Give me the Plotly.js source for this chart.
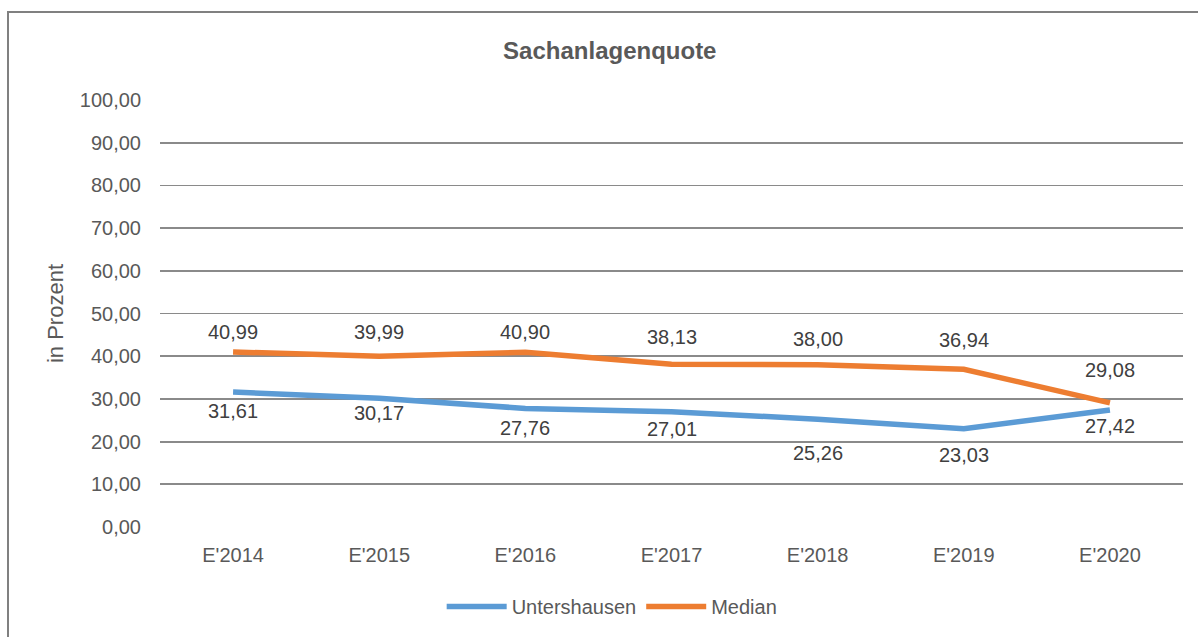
<!DOCTYPE html>
<html>
<head>
<meta charset="utf-8">
<script src="https://cdn.plot.ly/plotly-3.0.1.min.js"></script>
<style>html,body{margin:0;padding:0;background:#fff;}#chart{width:1198px;height:637px;}</style>
</head>
<body>
<div id="chart"></div>
<script>
const categories = ["E'2014", "E'2015", "E'2016", "E'2017", "E'2018", "E'2019", "E'2020"];
const untershausen = [31.61, 30.17, 27.76, 27.01, 25.26, 23.03, 27.42];
const median = [40.99, 39.99, 40.90, 38.13, 38.00, 36.94, 29.08];
const seriesNames = ["Untershausen", "Median"];
const yTicks = [0, 10, 20, 30, 40, 50, 60, 70, 80, 90, 100];

// label offsets (layout only, px)
const untersLabelShift = [-19, -15, -20, -17, -34, -26, -16];
const medianLabelShift = [20, 24, 20, 27, 26, 29, 33];

const FONT = "'Liberation Sans', Arial, sans-serif";
const fmt = v => v.toFixed(2).replace('.', ',');

const traces = [
  {x: categories, y: untershausen, name: seriesNames[0], type: 'scatter', mode: 'lines',
   line: {color: '#5B9BD5', width: 5.5}},
  {x: categories, y: median, name: seriesNames[1], type: 'scatter', mode: 'lines',
   line: {color: '#ED7D31', width: 5.5}}
];

const annotations = [];
categories.forEach((c, i) => {
  annotations.push({x: c, y: untershausen[i], xref: 'x', yref: 'y', text: fmt(untershausen[i]),
    showarrow: false, yshift: untersLabelShift[i], font: {family: FONT, size: 20, color: '#404040'}});
  annotations.push({x: c, y: median[i], xref: 'x', yref: 'y', text: fmt(median[i]),
    showarrow: false, yshift: medianLabelShift[i], font: {family: FONT, size: 20, color: '#404040'}});
});

const layout = {
  width: 1198, height: 637,
  paper_bgcolor: '#fff', plot_bgcolor: '#fff',
  separators: ',.',
  margin: {l: 160, r: 15, t: 100, b: 110},
  font: {family: FONT, color: '#595959', size: 20},
  title: {text: '<b>Sachanlagenquote</b>', x: 0.509, xref: 'container', xanchor: 'center', y: 0.921, yanchor: 'middle',
    font: {family: FONT, size: 24, color: '#595959'}},
  xaxis: {type: 'category', range: [-0.5, 6.5], showgrid: false, zeroline: false, showline: false,
    ticks: '', tickfont: {family: FONT, size: 20, color: '#595959'}, ticklabelstandoff: 14, fixedrange: true},
  yaxis: {range: [0, 100], tickvals: yTicks, tickformat: '.2f', showgrid: true, gridcolor: '#8a8a8a', gridwidth: 1.8,
    zeroline: false, showline: false, ticks: '', tickfont: {family: FONT, size: 20, color: '#595959'},
    ticklabelstandoff: 18,
    title: {text: 'in Prozent', standoff: 10, font: {family: FONT, size: 22, color: '#595959'}}},
  showlegend: true,
  legend: {orientation: 'h', x: 0.511, xref: 'container', xanchor: 'center', y: 0.048, yref: 'container', yanchor: 'middle',
    font: {family: FONT, size: 20, color: '#595959'}, itemwidth: 60, traceorder: 'normal'},
  annotations: annotations,
  shapes: [{type: 'rect', xref: 'paper', yref: 'paper', x0: -152/1023, x1: 1.05, y0: -0.3, y1: 1 + 88/427,
    line: {color: '#808080', width: 2}, fillcolor: 'rgba(0,0,0,0)', layer: 'below'}]
};

Plotly.newPlot('chart', traces, layout, {displayModeBar: false, staticPlot: true});
</script>
</body>
</html>
